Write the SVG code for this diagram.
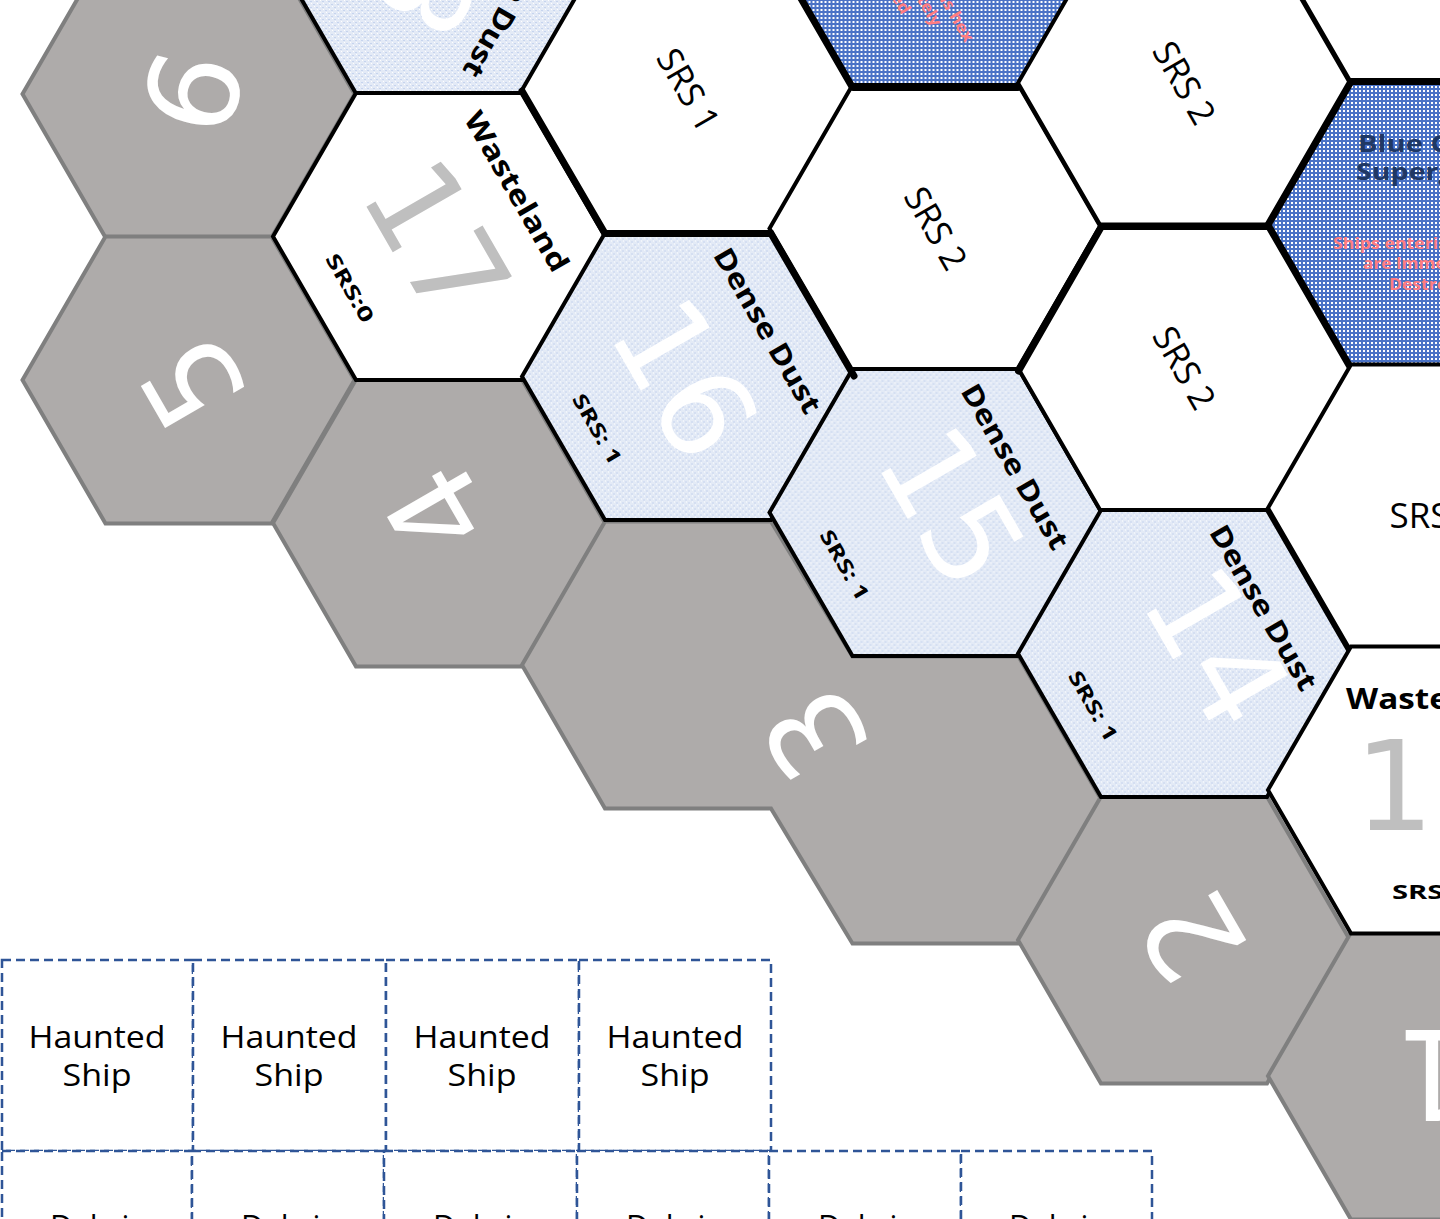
<svg xmlns="http://www.w3.org/2000/svg" width="1440" height="1219" viewBox="0 0 1440 1219">
<defs>
<style>
.g{fill:#AEABAA;stroke:#7F7F7F;stroke-width:4}
.w{fill:#FFFFFF;stroke:#000;stroke-width:4}
.d{fill:url(#dust);stroke:#000;stroke-width:4}
.b{fill:url(#blue);stroke:#000;stroke-width:7}
.thick{fill:none;stroke:#000;stroke-width:7;stroke-linecap:round}
.ttl{font-family:"Open Sans","Noto Sans",sans-serif;font-weight:700;font-size:28px;fill:#000;text-anchor:middle}
.srs{font-family:"Open Sans","Noto Sans",sans-serif;font-weight:700;font-size:20px;fill:#000;text-anchor:middle}
.num{font-family:"DejaVu Sans",sans-serif;font-size:125px;text-anchor:middle}
.lt{fill:#BFBFBF}
.wn{fill:#FFFFFF}
.plain{font-family:"Open Sans","Noto Sans",sans-serif;font-size:35px;fill:#000;text-anchor:middle}
.bt{font-family:"Open Sans","Noto Sans",sans-serif;font-weight:700;font-size:24px;fill:#203864;text-anchor:middle}
.rt{font-family:"Open Sans","Noto Sans",sans-serif;font-weight:700;font-size:16px;fill:#FF7C80;text-anchor:middle}
.card{fill:#FFFFFF;stroke:#2F5597;stroke-width:2.5;stroke-dasharray:9 5}
.ct{font-family:"Open Sans","Noto Sans",sans-serif;font-size:31px;fill:#000;text-anchor:middle}
</style>
<path id="hx" d="M-166,0 L-83,-143.5 L83,-143.5 L166,0 L83,143.5 L-83,143.5 Z"/>
<pattern id="dust" width="6" height="6" patternUnits="userSpaceOnUse">
<rect width="6" height="6" fill="#E3EAF6"/>
<rect x="0" y="0" width="2" height="1" fill="#C6D4EE"/>
<rect x="3" y="3" width="2" height="1" fill="#C6D4EE"/>
<rect x="1" y="2" width="1" height="1" fill="#FFFFFF"/>
<rect x="4" y="5" width="1" height="1" fill="#FFFFFF"/>
</pattern>
<pattern id="blue" width="4" height="4" patternUnits="userSpaceOnUse">
<rect width="4" height="4" fill="#4A72C6"/>
<rect x="1" y="1" width="2" height="2" fill="#FFFFFF"/>
</pattern>
</defs>
<rect width="1440" height="1219" fill="#FFFFFF"/>

<!-- gray border hexes -->
<g id="hex-6" transform="translate(188.5,94)">
<use href="#hx" class="g"/>
</g>
<g id="hex-5" transform="translate(188.5,380)">
<use href="#hx" class="g"/>
</g>
<g id="hex-4" transform="translate(439,523)">
<use href="#hx" class="g"/>
</g>
<g id="hex-3">
<path class="g" d="M605,521.5 L771,521.5 L852.5,656.5 L1018.5,656.5 L1101.5,800 L1018.5,943.5 L852.5,943.5 L771,808.5 L605,808.5 L522,665 Z"/>
</g>
<g id="hex-2" transform="translate(1184,940)">
<use href="#hx" class="g"/>
</g>
<g id="hex-1" transform="translate(1434,1076)">
<use href="#hx" class="g"/>
</g>

<!-- white / dust / blue hexes -->
<g id="hex-8" transform="translate(439,-50)">
<use href="#hx" class="d"/>
<g transform="rotate(120)">
<text class="num wn" x="42" y="37">8</text>
<text class="ttl" y="-80" textLength="186" lengthAdjust="spacingAndGlyphs">Dense Dust</text>
</g>
</g>
<g id="hex-17" transform="translate(439,236.5)">
<use href="#hx" class="w"/>
<g transform="rotate(60)">
<text class="num lt" x="2" y="48">17</text>
<text class="ttl" y="-80" textLength="180" lengthAdjust="spacingAndGlyphs">Wasteland</text>
<text class="srs" y="110" textLength="76" lengthAdjust="spacingAndGlyphs">SRS:0</text>
</g>
</g>
<g id="hex-srs1" transform="translate(688,90)">
<use href="#hx" class="w"/>
<g transform="rotate(60)"><text class="plain" y="12">SRS 1</text></g>
</g>
<g id="hex-16" transform="translate(688,376.5)">
<use href="#hx" class="d"/>
<g transform="rotate(60)">
<text class="num wn" x="0" y="48">16</text>
<text class="ttl" y="-82" textLength="186" lengthAdjust="spacingAndGlyphs">Dense Dust</text>
<text class="srs" y="112" textLength="78" lengthAdjust="spacingAndGlyphs">SRS: 1</text>
</g>
</g>
<g id="hex-blue-top" transform="translate(935.5,-56)">
<use href="#hx" class="b"/>
<g transform="rotate(60)">
<text class="rt" y="24" textLength="202" lengthAdjust="spacingAndGlyphs">Ships entering this hex</text>
<text class="rt" y="44" textLength="142" lengthAdjust="spacingAndGlyphs">are Immediately</text>
<text class="rt" y="65" textLength="90" lengthAdjust="spacingAndGlyphs">Destroyed</text>
</g>
</g>
<g id="hex-srs2-a" transform="translate(935.5,228.5)">
<use href="#hx" class="w"/>
<g transform="rotate(60)"><text class="plain" y="12">SRS 2</text></g>
</g>
<g id="hex-15" transform="translate(935.5,512.5)">
<use href="#hx" class="d"/>
<g transform="rotate(60)">
<text class="num wn" x="3" y="27">15</text>
<text class="ttl" y="-82" textLength="186" lengthAdjust="spacingAndGlyphs">Dense Dust</text>
<text class="srs" y="112" textLength="78" lengthAdjust="spacingAndGlyphs">SRS: 1</text>
</g>
</g>
<g id="hex-srs2-b" transform="translate(1184,83)">
<use href="#hx" class="w"/>
<g transform="rotate(60)"><text class="plain" y="12">SRS 2</text></g>
</g>
<g id="hex-srs2-c" transform="translate(1184,368)">
<use href="#hx" class="w"/>
<g transform="rotate(60)"><text class="plain" y="12">SRS 2</text></g>
</g>
<g id="hex-14" transform="translate(1184,653.5)">
<use href="#hx" class="d"/>
<g transform="rotate(60)">
<text class="num wn" x="11" y="12">14</text>
<text class="ttl" y="-82" textLength="186" lengthAdjust="spacingAndGlyphs">Dense Dust</text>
<text class="srs" y="112" textLength="78" lengthAdjust="spacingAndGlyphs">SRS: 1</text>
</g>
</g>
<g id="hex-top-right" transform="translate(1434,-61)">
<use href="#hx" class="w"/>
</g>
<g id="hex-blue" transform="translate(1434,225)">
<use href="#hx" class="b"/>
<text class="bt" y="-73" textLength="152" lengthAdjust="spacingAndGlyphs">Blue Giant</text>
<text class="bt" y="-45" textLength="156" lengthAdjust="spacingAndGlyphs">Supergiant</text>
<text class="rt" y="24" textLength="202" lengthAdjust="spacingAndGlyphs">Ships entering this hex</text>
<text class="rt" y="44" textLength="142" lengthAdjust="spacingAndGlyphs">are Immediately</text>
<text class="rt" y="65" textLength="90" lengthAdjust="spacingAndGlyphs">Destroyed</text>
</g>
<g id="hex-srs-right" transform="translate(1434,508)">
<use href="#hx" class="w"/>
<text class="plain" y="20">SRS 2</text>
</g>
<g id="hex-13" transform="translate(1434,790)">
<use href="#hx" class="w"/>
<text class="num lt" y="40">13</text>
<text class="ttl" y="-81" textLength="176" lengthAdjust="spacingAndGlyphs">Wasteland</text>
<text class="srs" y="109" textLength="84" lengthAdjust="spacingAndGlyphs">SRS: 0</text>
</g>

<!-- thick edges -->
<g id="connectors">
<path class="thick" d="M522,91 L605,233.5 L771,233.5 L854,376"/>
<path class="thick" d="M853,87.5 L1018,87.5"/>
<path class="thick" d="M1018.5,371 L1101.5,226.5 L1268,226.5"/>
</g>

<!-- gray numbers -->
<g id="labels-gray">
<g transform="translate(193,92) rotate(-75)"><text class="num wn" y="45">6</text></g>
<g transform="translate(192,382) rotate(-120)"><text class="num wn" y="45">5</text></g>
<g transform="translate(437,511) rotate(-120)"><text class="num wn" y="45">4</text></g>
<g transform="translate(815,734) rotate(-120)"><text class="num wn" y="45">3</text></g>
<g transform="translate(1192,936) rotate(-120)"><text class="num wn" y="45">2</text></g>
<g transform="translate(1434,1076) rotate(180)"><text class="num wn" y="46">1</text></g>
</g>

<!-- cards -->
<g id="card-1"><rect class="card" x="2" y="960" width="191" height="191"/><text class="ct" x="97" y="1048" textLength="137" lengthAdjust="spacingAndGlyphs">Haunted</text><text class="ct" x="97" y="1086" textLength="69" lengthAdjust="spacingAndGlyphs">Ship</text></g>
<g id="card-2"><rect class="card" x="193" y="960" width="193" height="191"/><text class="ct" x="289" y="1048" textLength="137" lengthAdjust="spacingAndGlyphs">Haunted</text><text class="ct" x="289" y="1086" textLength="69" lengthAdjust="spacingAndGlyphs">Ship</text></g>
<g id="card-3"><rect class="card" x="386" y="960" width="193" height="191"/><text class="ct" x="482" y="1048" textLength="137" lengthAdjust="spacingAndGlyphs">Haunted</text><text class="ct" x="482" y="1086" textLength="69" lengthAdjust="spacingAndGlyphs">Ship</text></g>
<g id="card-4"><rect class="card" x="579" y="960" width="192" height="191"/><text class="ct" x="675" y="1048" textLength="137" lengthAdjust="spacingAndGlyphs">Haunted</text><text class="ct" x="675" y="1086" textLength="69" lengthAdjust="spacingAndGlyphs">Ship</text></g>
<g id="card-5"><rect class="card" x="2" y="1151" width="190" height="200"/><text class="ct" x="97" y="1237">Debris</text></g>
<g id="card-6"><rect class="card" x="192" y="1151" width="192" height="200"/><text class="ct" x="288" y="1237">Debris</text></g>
<g id="card-7"><rect class="card" x="384" y="1151" width="193" height="200"/><text class="ct" x="480" y="1237">Debris</text></g>
<g id="card-8"><rect class="card" x="577" y="1151" width="192" height="200"/><text class="ct" x="673" y="1237">Debris</text></g>
<g id="card-9"><rect class="card" x="769" y="1151" width="192" height="200"/><text class="ct" x="865" y="1237">Debris</text></g>
<g id="card-10"><rect class="card" x="961" y="1151" width="191" height="200"/><text class="ct" x="1056" y="1237">Debris</text></g>
</svg>
